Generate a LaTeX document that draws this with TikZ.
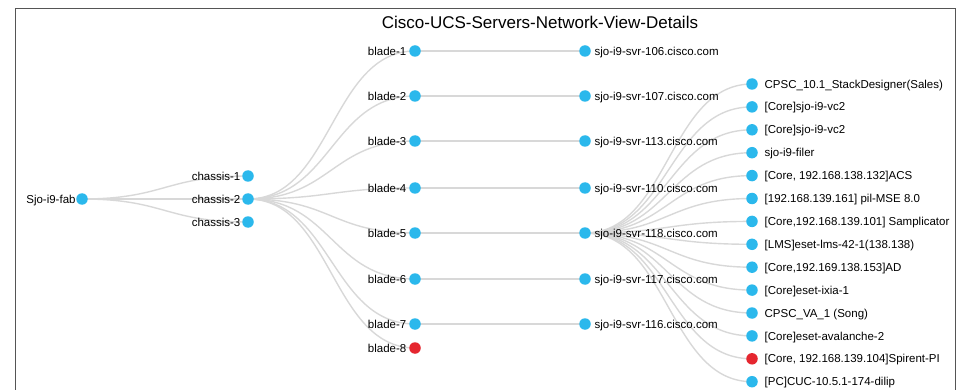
\documentclass[tikz,border=0pt]{standalone}
\usepackage{fontspec}
\setmainfont{Liberation Sans}
\usepackage{tikz}
\usetikzlibrary{calc}
\usetikzlibrary{positioning}
\usetikzlibrary{backgrounds}
\definecolor{nodeblue}{HTML}{2BB8EC}
\definecolor{nodered}{HTML}{E5262F}
\definecolor{linkgray}{HTML}{D8D8D8}
\definecolor{framegray}{HTML}{555555}
\newcommand{\linkto}[2]{%
    \draw[link] let \p1=(#1), \p2=(#2) in
        (\p1) .. controls ({(\x1+\x2)/2},\y1) and ({(\x1+\x2)/2},\y2) .. (\p2);}

\begin{document}
\begin{tikzpicture}[x=1pt, y=-1pt,
        dot/.style={circle, fill=nodeblue, inner sep=0pt, minimum size=11.5pt},
        lbl/.style={inner sep=0pt, text height=8.2pt, text depth=0pt,
                    font=\fontsize{11.5}{13}\selectfont},
        link/.style={linkgray, line width=1.4pt}]
        \useasboundingbox (0,0) rectangle (963,390);
        \draw[framegray, line width=1.3pt] (15.3,8.3) rectangle (955.3,420);
        \node[lbl, font=\fontsize{17}{20}\selectfont, text height=12.2pt] (title)
            at (540,22) {Cisco-UCS-Servers-Network-View-Details};
        \node[dot] (fab) at (82,199) {};
        \node[lbl, left=0.3pt of fab] {Sjo-i9-fab};
        \foreach \c/\y in {1/176,2/199,3/222} {
            \node[dot] (chassis\c) at (248,\y) {};
            \node[lbl, left=1.5pt of chassis\c] {chassis-\c};
        }
        \foreach \b/\y/\s in {1/51/106,2/96/107,3/141/113,4/188/110,5/233/118,6/279/117,7/324/116} {
            \node[dot] (blade\b) at (415,\y) {};
            \node[lbl, left=2.5pt of blade\b] {blade-\b};
            \node[dot] (svr\s) at (585,\y) {};
            \node[lbl, right=3.5pt of svr\s] {sjo-i9-svr-\s.cisco.com};
        }
        \node[dot, fill=nodered] (blade8) at (415,348) {};
        \node[lbl, left=2.5pt of blade8] {blade-8};
        \foreach \txt [count=\i from 0] in {CPSC\_10.1\_StackDesigner(Sales), [Core]sjo-i9-vc2,
                [Core]sjo-i9-vc2, sjo-i9-filer, {[Core, 192.168.138.132]ACS},
                [192.168.139.161] pil-MSE 8.0, {[Core,192.168.139.101] Samplicator},
                [LMS]eset-lms-42-1(138.138), {[Core,192.169.138.153]AD}, [Core]eset-ixia-1,
                CPSC\_VA\_1 (Song), [Core]eset-avalanche-2, {[Core, 192.168.139.104]Spirent-PI},
                [PC]CUC-10.5.1-174-dilip} {
            \ifnum\i=12
                \node[dot, fill=nodered] (vm\i) at (752,{84+22.9*\i}) {};
            \else
                \node[dot] (vm\i) at (752,{84+22.9*\i}) {};
            \fi
            \node[lbl, right=6.5pt of vm\i] {\txt};
        }
        \begin{scope}[on background layer]
            \foreach \c in {1,2,3} {\linkto{fab}{chassis\c}}
            \foreach \b in {1,...,8} {\linkto{chassis2}{blade\b}}
            \foreach \b/\s in {1/106,2/107,3/113,4/110,5/118,6/117,7/116} {\linkto{blade\b}{svr\s}}
            \foreach \i in {0,...,13} {\linkto{svr118}{vm\i}}
        \end{scope}
    \end{tikzpicture}
\end{document}
